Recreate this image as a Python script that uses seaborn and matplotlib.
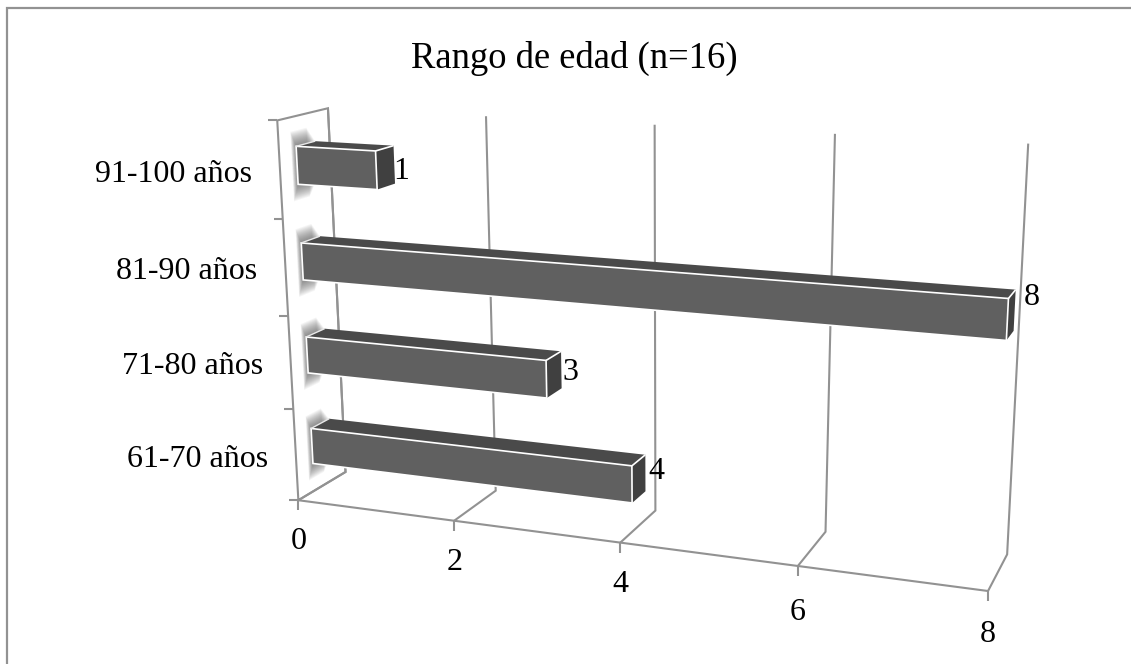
import numpy as np
import matplotlib
matplotlib.use('Agg')
import matplotlib.pyplot as plt
import seaborn as sns
from matplotlib.lines import Line2D
from matplotlib.patches import Polygon
from matplotlib.transforms import Affine2D, Transform

rangos = ['91-100 años', '81-90 años', '71-80 años', '61-70 años']
valores = [1, 8, 3, 4]
ticks_x = [0, 2, 4, 6, 8]
titulo = 'Rango de edad (n=16)'

W, H = 1131, 664
GRIS = '#929292'
Z_FRENTE, Z_FONDO = 0.33, 0.71
ANCHO = 0.39
FS = 23

# camara de la caja 3D: (valor, categoria, profundidad) -> pixel
mundo = [(0, 3.5, 0), (2, 3.5, 0), (4, 3.5, 0), (6, 3.5, 0), (8, 3.5, 0),
         (0, 3.5, 1), (2, 3.5, 1), (4, 3.5, 1), (6, 3.5, 1), (8, 3.5, 1),
         (0, -.5, 1), (2, -.5, 1), (4, -.5, 1), (6, -.5, 1), (8, -.5, 1),
         (0, -.5, 0)]
pixel = [(298, 500), (454, 521), (621, 542), (798, 566), (988, 591),
         (345, 472), (497, 490), (655, 511), (825, 532), (1007, 555),
         (328, 108), (486, 116), (655, 126), (835, 133), (1028, 143),
         (277, 121)]

filas, ctes = [], []
for (x, y, z), (u, v) in zip(mundo, pixel):
    filas.append([x, y, z, 1, 0, 0, 0, 0, -u * x, -u * y, -u * z])
    filas.append([0, 0, 0, 0, x, y, z, 1, -v * x, -v * y, -v * z])
    ctes += [u, v]
P = np.append(np.linalg.lstsq(np.array(filas, float), np.array(ctes, float), rcond=None)[0], 1).reshape(3, 4)


def proyectar(x, y, z):
    p = P @ np.array([x, y, z, 1.0])
    return p[0] / p[2], p[1] / p[2]


class PlanoFrontal(Transform):
    # lleva (valor, categoria) de un plano z fijo a pixeles
    input_dims = output_dims = 2

    def __init__(self, z):
        super().__init__()
        self.z = z

    def transform_non_affine(self, values):
        return np.array([proyectar(x, y, self.z) for x, y in values]).reshape(-1, 2)


sns.set_theme(style='white')
plt.rcParams['font.family'] = ['Liberation Serif', 'DejaVu Serif']

fig, ax = plt.subplots(figsize=(W / 100, H / 100), dpi=100)
fig.subplots_adjust(0, 0, 1, 1)
ax.set_axis_off()

# pixeles de la imagen (y hacia abajo) -> display
px = Affine2D().scale(1, -1).translate(0, H)

sns.barplot(x=valores, y=rangos, orient='h', width=ANCHO, color='#606060',
            saturation=1, edgecolor='white', linewidth=1.2, ax=ax, zorder=5)
ax.set_xlim(0, 8)
ax.set_ylim(3.5, -0.5)


def linea(puntos, lw=1.5, zorder=1, color=GRIS):
    xs, ys = zip(*puntos)
    ax.add_line(Line2D(xs, ys, color=color, lw=lw, transform=px, clip_on=False,
                       zorder=zorder, solid_capstyle='butt', solid_joinstyle='miter'))


def cara(puntos, color, zorder=4):
    ax.add_patch(Polygon(puntos, closed=True, facecolor=color, edgecolor='none',
                         transform=px, clip_on=False, zorder=zorder))


# marco, sin lado derecho ni inferior
linea([(7, H), (7, 8), (W, 8)], lw=1.6)

# paredes y suelo
linea([proyectar(0, 3.5, 0), proyectar(8, 3.5, 0)])
linea([proyectar(0, 3.5, 0), proyectar(0, -.5, 0), proyectar(0, -.5, 1), proyectar(0, 3.5, 1), proyectar(0, 3.5, 0)])
ajuste_ticks = [0, 1, 1, 6, 2]
for t, aj in zip(ticks_x, ajuste_ticks):
    base = proyectar(t, 3.5, 0)
    linea([proyectar(t, 3.5, 0), proyectar(t, 3.5, 1), proyectar(t, -.5, 1)])
    linea([base, (base[0], base[1] + 10)])
    ax.text(base[0], base[1] + 41 + aj, str(t), transform=px, ha='center', va='center', fontsize=FS, color='black')
for c in np.arange(-.5, 4):
    u, v = proyectar(0, c, 0)
    linea([(u - 9, v), (u, v)])

# etiquetas de categoria
for i, r in enumerate(rangos):
    u, v = proyectar(0, i, 0)
    ax.text(u - 28, v + 4, r, transform=px, ha='right', va='center', fontsize=FS, color='black')

# ajuste fino de las etiquetas de valor, en pixeles
ajuste = [(-3, 7), (7, -13), (-1, 3), (1, -2)]

for barra, v, aj in zip(ax.patches, valores, ajuste):
    y0, y1 = barra.get_y(), barra.get_y() + barra.get_height()
    ancho = barra.get_width()

    # sombra difusa sobre la pared
    for e in np.linspace(0.16, 0.0, 16):
        cara([proyectar(0, y0 - e, Z_FRENTE - e * 0.6), proyectar(0, y0 - e, Z_FONDO - e),
              proyectar(0, y1 + e, Z_FONDO - e), proyectar(0, y1 + e, Z_FRENTE - e * 0.6)], (0.3, 0.3, 0.3, 0.06), zorder=2)

    # frente proyectado
    barra.set_transform(PlanoFrontal(Z_FRENTE) + px)
    barra.set_clip_on(False)

    # tapa y lateral
    cara([proyectar(0, y0, Z_FRENTE), proyectar(0, y0, Z_FONDO),
          proyectar(ancho, y0, Z_FONDO), proyectar(ancho, y0, Z_FRENTE)], '#4a4a4a')
    cara([proyectar(ancho, y0, Z_FRENTE), proyectar(ancho, y0, Z_FONDO),
          proyectar(ancho, y1, Z_FONDO), proyectar(ancho, y1, Z_FRENTE)], '#404040')
    linea([proyectar(0, y0, Z_FRENTE), proyectar(0, y0, Z_FONDO)], lw=1.0, zorder=6, color='#e8e8e8')
    linea([proyectar(ancho, y0, Z_FRENTE), proyectar(ancho, y0, Z_FONDO)], lw=1.2, zorder=6, color='white')

    u, w = proyectar(ancho, (y0 + y1) / 2, Z_FONDO)
    ax.text(u + 10 + aj[0], w + aj[1], str(v), transform=px, ha='center', va='center', fontsize=FS, color='black', zorder=7)

ax.text(574, 58, titulo, transform=px, ha='center', va='center', fontsize=26.4, color='black')

fig.savefig('out.png', dpi=100)
